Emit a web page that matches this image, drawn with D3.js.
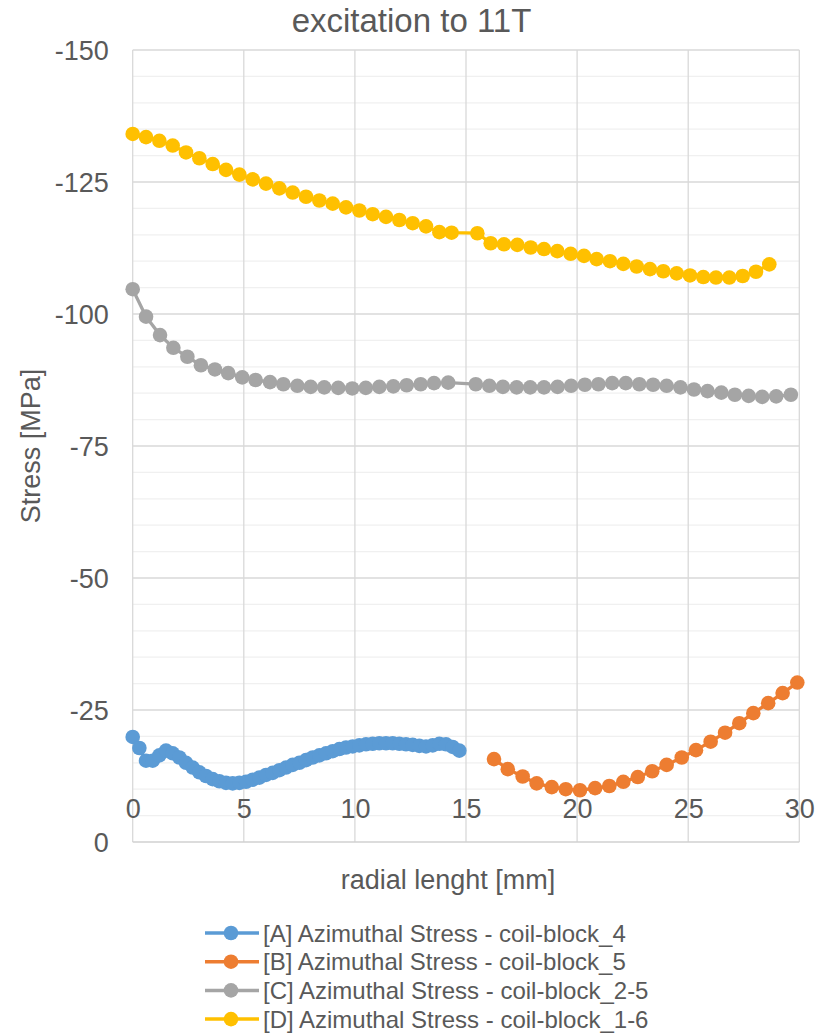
<!DOCTYPE html>
<html>
<head>
<meta charset="utf-8">
<script src="https://cdn.jsdelivr.net/npm/d3@7"></script>
<style>
  body { margin: 0; background: #fff; }
  text { font-family: "Liberation Sans", Arial, sans-serif; fill: #595959; }
</style>
</head>
<body>
<div id="chart"></div>
<script>
// Data
var seriesNames = [
    "[A] Azimuthal Stress - coil-block_4",
    "[B] Azimuthal Stress - coil-block_5",
    "[C] Azimuthal Stress - coil-block_2-5",
    "[D] Azimuthal Stress - coil-block_1-6"
];
var seriesColors = ["#5b9bd5", "#ed7d31", "#a5a5a5", "#ffc000"];

var aX = [0, 0.3, 0.6, 0.9, 1.2, 1.5, 1.8, 2.1, 2.4, 2.7, 3.0, 3.3, 3.6, 3.9, 4.2, 4.5, 4.8, 5.1, 5.4, 5.7,
    6.0, 6.3, 6.6, 6.9, 7.2, 7.5, 7.8, 8.1, 8.4, 8.7, 9.0, 9.3, 9.6, 9.9, 10.2, 10.5, 10.8, 11.1, 11.4, 11.7,
    12.0, 12.3, 12.6, 12.9, 13.2, 13.5, 13.8, 14.1, 14.4, 14.7];
var aY = [-19.9, -17.8, -15.4, -15.4, -16.4, -17.3, -16.8, -16.0, -15.0, -14.1,
    -13.2, -12.5, -11.9, -11.5, -11.2, -11.1, -11.2, -11.4, -11.8, -12.2,
    -12.7, -13.1, -13.6, -14.1, -14.6, -15.0, -15.5, -16.0, -16.4, -16.8,
    -17.2, -17.6, -17.9, -18.1, -18.3, -18.5, -18.6, -18.7, -18.7, -18.7,
    -18.6, -18.5, -18.4, -18.2, -18.1, -18.3, -18.6, -18.5, -18.0, -17.3];

var bX = [16.26, 16.88, 17.55, 18.18, 18.86, 19.49, 20.13, 20.81, 21.45, 22.08, 22.73,
    23.38, 24.03, 24.71, 25.35, 26.01, 26.66, 27.30, 27.93, 28.60, 29.25, 29.91];
var bY = [-15.7, -13.8, -12.4, -11.1, -10.4, -10.0, -9.8, -10.2, -10.6, -11.4, -12.3,
    -13.4, -14.6, -16.0, -17.4, -19.0, -20.7, -22.5, -24.4, -26.3, -28.2, -30.2];

var cX = [0, 0.6, 1.23, 1.83, 2.46, 3.07, 3.70, 4.30, 4.93, 5.53, 6.18, 6.78, 7.41, 8.01, 8.62, 9.25,
    9.88, 10.49, 11.10, 11.73, 12.33, 12.96, 13.56, 14.20,
    15.44, 16.05, 16.66, 17.28, 17.89, 18.51, 19.12, 19.73, 20.35, 20.96, 21.58, 22.19,
    22.80, 23.42, 24.03, 24.65, 25.26, 25.87, 26.49, 27.10, 27.72, 28.33, 28.96, 29.62];
var cY = [-104.7, -99.5, -96.0, -93.6, -91.9, -90.3, -89.5, -88.8, -88.0, -87.5, -87.1, -86.7,
    -86.4, -86.2, -86.1, -86.0, -85.9, -86.0, -86.2, -86.3, -86.5, -86.7, -86.9, -87.0,
    -86.7, -86.4, -86.2, -86.1, -86.1, -86.1, -86.2, -86.4, -86.6, -86.7, -86.9, -86.9,
    -86.7, -86.6, -86.4, -86.1, -85.7, -85.4, -85.1, -84.7, -84.5, -84.3, -84.4, -84.7];

var dX = [0, 0.6, 1.2, 1.8, 2.4, 3.0, 3.6, 4.2, 4.8, 5.4, 6.0, 6.6, 7.2, 7.8, 8.4, 9.0, 9.6,
    10.2, 10.8, 11.4, 12.0, 12.6, 13.2, 13.8, 14.35,
    15.51, 16.11, 16.71, 17.31, 17.91, 18.51, 19.11, 19.71, 20.31, 20.88, 21.48, 22.08,
    22.68, 23.28, 23.88, 24.48, 25.08, 25.68, 26.25, 26.85, 27.45, 28.05, 28.65];
var dY = [-134.1, -133.5, -132.8, -131.9, -130.6, -129.5, -128.4, -127.3, -126.4, -125.5,
    -124.7, -123.8, -123.0, -122.2, -121.5, -120.9, -120.2, -119.6, -118.9, -118.4,
    -117.8, -117.2, -116.6, -115.5, -115.4,
    -115.3, -113.4, -113.2, -113.1, -112.6, -112.3, -111.9, -111.4, -111.0, -110.4,
    -110.0, -109.5, -109.0, -108.5, -108.1, -107.7, -107.3, -107.0, -106.9, -106.9,
    -107.2, -108.0, -109.4];

var xTicks = [0, 5, 10, 15, 20, 25, 30];
var yTicks = [0, -25, -50, -75, -100, -125, -150];
var yMinorTicks = d3.range(0, -151, -5);

var chartTitle = "excitation to 11T";
var xTitle = "radial lenght [mm]";
var yTitle = "Stress [MPa]";

// Layout
var W = 825, H = 1033;
var plotLeft = 132.7, plotRight = 799.3, plotTop = 50, plotBottom = 842;
var dotR = 7.3;
var tickFont = 27;

function draw() {
    var svg = d3.select("#chart").append("svg")
        .attr("width", W)
        .attr("height", H);

    var x = d3.scaleLinear().domain([0, 30]).range([plotLeft, plotRight]);
    var y = d3.scaleLinear().domain([0, -150]).range([plotBottom, plotTop]);

    // Minor horizontal grid
    svg.append("g").selectAll("line")
        .data(yMinorTicks.filter(function (d) { return d % 25 !== 0; }))
        .enter().append("line")
        .attr("x1", plotLeft).attr("x2", plotRight)
        .attr("y1", function (d) { return y(d); })
        .attr("y2", function (d) { return y(d); })
        .attr("stroke", "#f0f0f0")
        .attr("stroke-width", 1.2);

    // Major grid
    svg.append("g").selectAll("line")
        .data(yTicks.filter(function (d) { return d !== 0; }))
        .enter().append("line")
        .attr("x1", plotLeft).attr("x2", plotRight)
        .attr("y1", function (d) { return y(d); })
        .attr("y2", function (d) { return y(d); })
        .attr("stroke", "#d9d9d9")
        .attr("stroke-width", 1.3);

    svg.append("g").selectAll("line")
        .data(xTicks)
        .enter().append("line")
        .attr("x1", function (d) { return x(d); })
        .attr("x2", function (d) { return x(d); })
        .attr("y1", plotTop).attr("y2", plotBottom)
        .attr("stroke", "#d9d9d9")
        .attr("stroke-width", 1.3);

    // Horizontal axis line
    svg.append("line")
        .attr("x1", plotLeft).attr("x2", plotRight)
        .attr("y1", plotBottom).attr("y2", plotBottom)
        .attr("stroke", "#d0d0d0")
        .attr("stroke-width", 1.5);

    // Y axis labels
    var yAxis = svg.append("g")
        .attr("transform", "translate(" + (plotLeft - 24) + ",0)")
        .call(d3.axisLeft(y).tickValues(yTicks).tickSize(0).tickPadding(0)
            .tickFormat(function (d) { return String(d); }));
    yAxis.select(".domain").remove();
    yAxis.selectAll("text")
        .attr("font-size", tickFont)
        .attr("dy", "0.36em")
        .style("font-family", "Liberation Sans, Arial, sans-serif")
        .attr("fill", "#595959");

    // X axis labels (sit inside the plot, as in the original)
    var xAxis = svg.append("g")
        .attr("transform", "translate(0,818)")
        .call(d3.axisBottom(x).tickValues(xTicks).tickSize(0).tickPadding(0)
            .tickFormat(function (d) { return String(d); }));
    xAxis.select(".domain").remove();
    xAxis.selectAll("text")
        .attr("y", 0)
        .attr("dy", 0)
        .attr("font-size", tickFont)
        .style("font-family", "Liberation Sans, Arial, sans-serif")
        .attr("fill", "#595959");

    // Series
    var series = [
        { xs: aX, ys: aY },
        { xs: bX, ys: bY },
        { xs: cX, ys: cY },
        { xs: dX, ys: dY }
    ];

    var line = d3.line()
        .x(function (d) { return x(d[0]); })
        .y(function (d) { return y(d[1]); });

    series.forEach(function (s, i) {
        var pts = s.xs.map(function (v, j) { return [v, s.ys[j]]; });
        var g = svg.append("g");
        g.append("path")
            .datum(pts)
            .attr("d", line)
            .attr("fill", "none")
            .attr("stroke", seriesColors[i])
            .attr("stroke-width", 3.3);
        g.selectAll("circle")
            .data(pts)
            .enter().append("circle")
            .attr("cx", function (d) { return x(d[0]); })
            .attr("cy", function (d) { return y(d[1]); })
            .attr("r", dotR)
            .attr("fill", seriesColors[i]);
    });

    // Titles
    svg.append("text")
        .attr("x", 411.5).attr("y", 32)
        .attr("text-anchor", "middle")
        .attr("font-size", 33)
        .text(chartTitle);

    svg.append("text")
        .attr("x", 448).attr("y", 889)
        .attr("text-anchor", "middle")
        .attr("font-size", tickFont)
        .text(xTitle);

    svg.append("text")
        .attr("transform", "translate(40,446) rotate(-90)")
        .attr("text-anchor", "middle")
        .attr("font-size", tickFont)
        .text(yTitle);

    // Legend
    var legend = svg.append("g").selectAll("g")
        .data(seriesNames)
        .enter().append("g")
        .attr("transform", function (d, i) { return "translate(0," + (933 + i * 28.7) + ")"; });

    legend.append("line")
        .attr("x1", 205).attr("x2", 259)
        .attr("y1", 0).attr("y2", 0)
        .attr("stroke", function (d, i) { return seriesColors[i]; })
        .attr("stroke-width", 3.5);
    legend.append("circle")
        .attr("cx", 231).attr("cy", 0)
        .attr("r", dotR)
        .attr("fill", function (d, i) { return seriesColors[i]; });
    legend.append("text")
        .attr("x", 263).attr("y", 8.5)
        .attr("font-size", 24)
        .text(function (d) { return d; });
}

draw();
</script>
</body>
</html>
